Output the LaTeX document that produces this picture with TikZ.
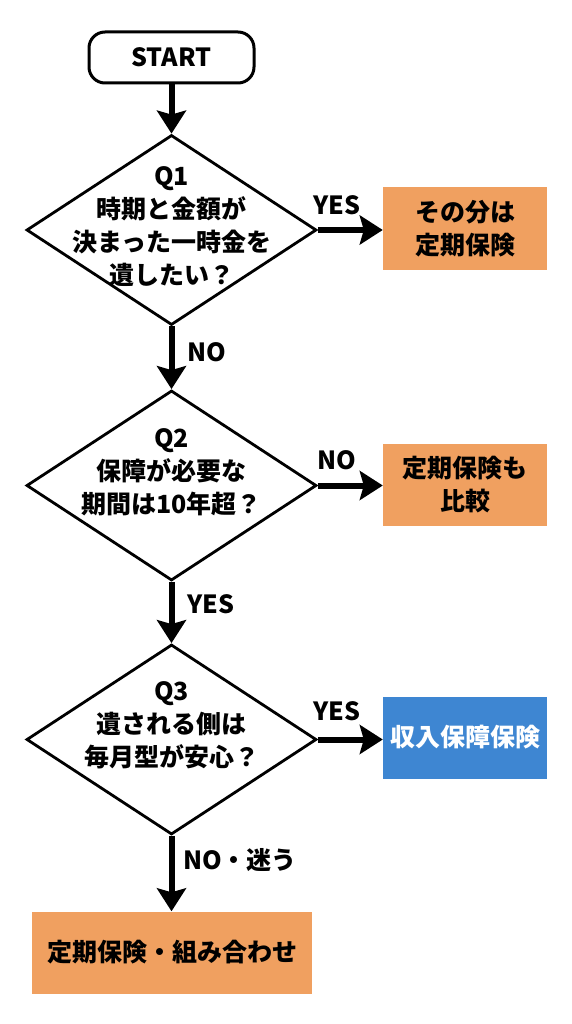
\documentclass[tikz,border=0pt]{standalone}
\usepackage{fontspec}
\setmainfont{Noto Sans CJK JP}
\usetikzlibrary{shapes.geometric,arrows.meta}
\definecolor{orng}{RGB}{240,160,96}
\definecolor{blu}{RGB}{62,134,210}
\begin{document}
\begin{tikzpicture}[x=1pt,y=-1pt,
  txt/.style={font=\fontsize{25}{33}\selectfont\bfseries, align=center, inner sep=0pt},
  dia/.style={diamond, draw, line width=2.8pt, inner sep=0pt, minimum width=290pt, minimum height=190pt},
  startbox/.style={draw, line width=3pt, rounded corners=16pt, minimum width=165pt, minimum height=51pt, txt},
  resbox/.style={fill=orng, minimum width=164pt, minimum height=82pt, txt},
  flow/.style={line width=6pt, -{Stealth[length=23pt,width=29pt,inset=4pt]}},
  lbl/.style={txt}
]
\useasboundingbox[fill=white] (0,0) rectangle (572,1024);

\node[startbox] (start) at (171.5,57.5) {START};

\node[dia] (q1) at (171.5,230) {};
\node[txt] (q1t) at (171.5,227) {Q1\\時期と金額が\\決まった一時金を\\遺したい？};

\node[dia] (q2) at (171.5,485.5) {};
\node[txt] (q2t) at (171.5,472) {Q2\\保障が必要な\\期間は10年超？};

\node[dia] (q3) at (171.5,739.5) {};
\node[txt] (q3t) at (171.5,725) {Q3\\遺される側は\\毎月型が安心？};

\node[resbox] (b1) at (465,228.5) {その分は\\定期保険};
\node[resbox] (b2) at (465,484.5) {定期保険も\\比較};
\node[resbox, fill=blu, text=white] (b3) at (465,737.5) {収入保障保険};
\node[resbox, minimum width=280pt] (b4) at (172,952.5) {定期保険・組み合わせ};

\draw[flow] (start.south) -- (q1.north);
\draw[flow] (q1.south) -- (q2.north);
\draw[flow] (q2.south) -- (q3.north);
\draw[flow] (q3.south) -- (q3.south |- b4.north);

\draw[flow] (q1.east) -- (q1.east -| b1.west);
\draw[flow] (q2.east) -- (q2.east -| b2.west);
\draw[flow] (q3.east) -- (q3.east -| b3.west);

\node[lbl] (l1) at (337,205) {YES};
\node[lbl] (l2) at (207,352) {NO};
\node[lbl] (l3) at (337,460) {NO};
\node[lbl] (l4) at (211,604) {YES};
\node[lbl] (l5) at (337,711) {YES};
\node[lbl] (l6) at (240,860) {NO・迷う};
\end{tikzpicture}
\end{document}
